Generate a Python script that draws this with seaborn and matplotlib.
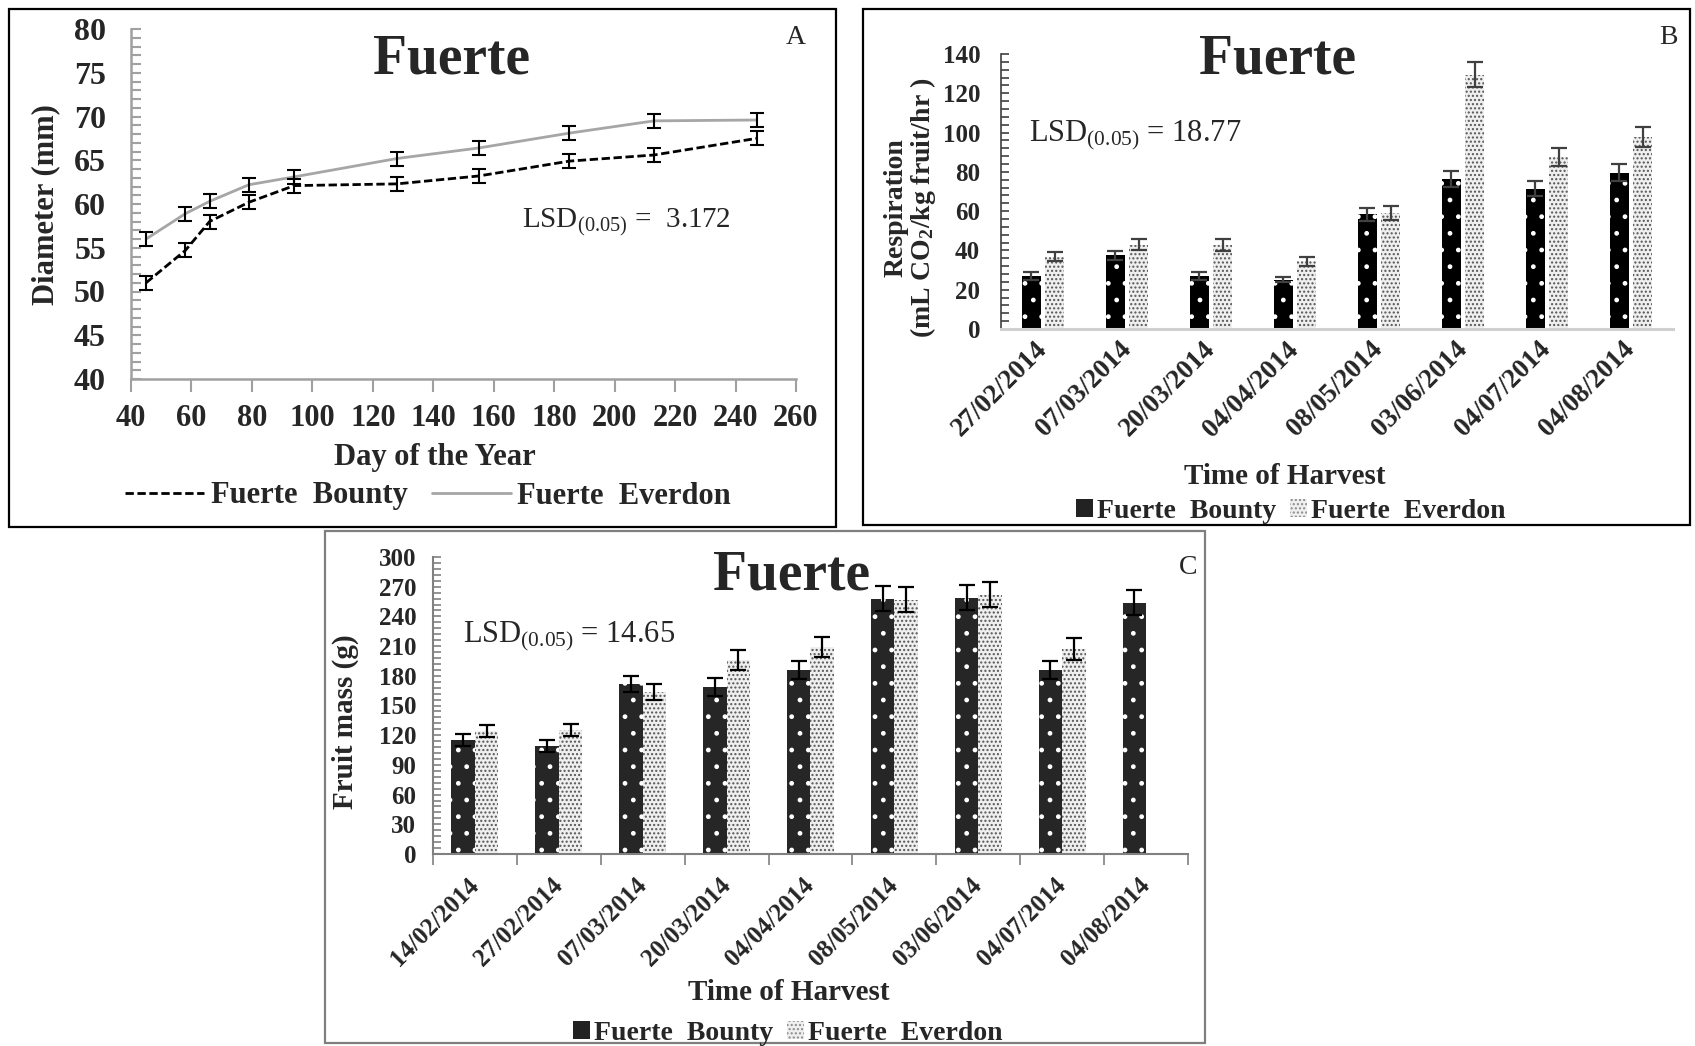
import numpy as np
import pandas as pd
import matplotlib
matplotlib.use("Agg")
import matplotlib.pyplot as plt
import seaborn as sns
from matplotlib.patches import Rectangle, Patch
from matplotlib.lines import Line2D
from matplotlib.ticker import MultipleLocator

# ---------------- data ----------------
# Panel A: fruit diameter vs day of year
days = [45, 58, 66, 79, 94, 128, 155, 185, 213, 247]
diam_bounty = [51.0, 54.7, 58.0, 60.2, 62.1, 62.3, 63.2, 64.9, 65.6, 67.5]
diam_everdon = [56.0, 58.9, 60.3, 62.2, 63.1, 65.2, 66.4, 68.1, 69.5, 69.6]
diam_err_bounty = [0.8, 0.8, 0.8, 0.8, 0.8, 0.8, 0.8, 0.8, 0.8, 0.8]
diam_err_everdon = [0.8, 0.8, 0.8, 0.8, 0.8, 0.8, 0.8, 0.8, 0.8, 0.8]

# Panel B: respiration
resp_dates = ["27/02/2014", "07/03/2014", "20/03/2014", "04/04/2014",
              "08/05/2014", "03/06/2014", "04/07/2014", "04/08/2014"]
resp_bounty = [27.0, 37.5, 27.0, 25.0, 58.3, 76.3, 71.5, 79.5]
resp_everdon = [36.8, 42.8, 42.8, 34.5, 59.0, 129.5, 87.4, 97.8]
resp_err_bounty = [1.8, 2.3, 1.8, 1.3, 3.2, 3.9, 3.7, 4.3]
resp_err_everdon = [2.3, 2.8, 3.0, 2.3, 3.6, 6.5, 4.6, 5.2]

# Panel C: fruit mass
mass_dates = ["14/02/2014", "27/02/2014", "07/03/2014", "20/03/2014", "04/04/2014",
              "08/05/2014", "03/06/2014", "04/07/2014", "04/08/2014"]
mass_bounty = [115, 109, 172, 169, 186, 258, 259, 186, 254]
mass_everdon = [124, 125, 164, 196, 209, 257, 262, 207, np.nan]
mass_err_bounty = [6, 6, 8, 9, 9, 13, 13, 9, 13]
mass_err_everdon = [6, 6, 8, 10, 10, 13, 13, 11, np.nan]

series_names = ["Fuerte  Bounty", "Fuerte  Everdon"]

# ---------------- style ----------------
sns.set_theme(style="white")
plt.rcParams["font.family"] = ["Liberation Serif", "DejaVu Serif"]
plt.rcParams["mathtext.default"] = "regular"
plt.rcParams["hatch.linewidth"] = 1.0

W, H = 1695, 1046
fig = plt.figure(figsize=(W / 100, H / 100), dpi=100)


def ax_rect(l, r, t, b):
    return [l / W, 1 - b / H, (r - l) / W, (b - t) / H]


def fx(px):
    return px / W


def fy(py):
    return 1 - py / H


# frames
for (x0, y0, x1, y1, col) in [(9, 9, 836, 527, "black"),
                              (863, 9, 1690, 525, "black"),
                              (325, 531, 1205, 1043, "#7f7f7f")]:
    fig.add_artist(Rectangle((fx(x0), fy(y1)), (x1 - x0) / W, (y1 - y0) / H,
                             transform=fig.transFigure, fill=False,
                             edgecolor=col, linewidth=1.6))

BOLD = dict(fontweight="bold")
EVERDON_FACE = "#efefef"
EVERDON_DOTS = "#555555"

# ================= Panel A =================
axA = fig.add_axes(ax_rect(131, 796, 29, 379))
dfA = pd.DataFrame({
    "day": days + days,
    "diam": diam_bounty + diam_everdon,
    "cult": [series_names[0]] * len(days) + [series_names[1]] * len(days),
})
sns.lineplot(data=dfA, x="day", y="diam", hue="cult", style="cult",
             palette={series_names[0]: "black", series_names[1]: "#a6a6a6"},
             dashes={series_names[0]: (3, 1.3), series_names[1]: ""},
             linewidth=2.0, ax=axA, legend=False, errorbar=None)
axA.errorbar(days, diam_bounty, yerr=diam_err_bounty, fmt="none", ecolor="black",
             elinewidth=1.5, capsize=5, capthick=1.5)
axA.errorbar(days, diam_everdon, yerr=diam_err_everdon, fmt="none", ecolor="black",
             elinewidth=1.5, capsize=5, capthick=1.5)
axA.set_xlim(40, 260)
axA.set_ylim(40, 80)
axA.xaxis.set_major_locator(MultipleLocator(20))
axA.yaxis.set_major_locator(MultipleLocator(5))
axA.yaxis.set_minor_locator(MultipleLocator(1))
for s in ["top", "right"]:
    axA.spines[s].set_visible(False)
for s in ["left", "bottom"]:
    axA.spines[s].set_color("#a0a0a0")
    axA.spines[s].set_linewidth(1.8)
axA.tick_params(axis="y", which="both", direction="in", color="#a0a0a0", width=1.5,
                labelsize=23, pad=18, left=True)
axA.tick_params(axis="y", which="major", length=7)
axA.tick_params(axis="y", which="minor", length=7)
axA.tick_params(axis="x", which="major", direction="out", color="#a0a0a0", width=1.5,
                length=9, labelsize=22, pad=9, bottom=True)
for lab in axA.get_xticklabels() + axA.get_yticklabels():
    lab.set_fontweight("bold")
axA.set_xlabel("")
axA.set_ylabel("")
fig.text(fx(46), fy(205), "Diameter (mm)", rotation=90, ha="center", va="center",
         fontsize=22, **BOLD)
fig.text(fx(435), fy(458), "Day of the Year", ha="center", va="center", fontsize=22, **BOLD)
fig.text(fx(452), fy(60), "Fuerte", ha="center", va="center", fontsize=40, **BOLD)
fig.text(fx(796), fy(38), "A", ha="center", va="center", fontsize=20)
fig.text(fx(522), fy(222), "LSD$_{(0.05)}$ =  3.172", ha="left", va="center", fontsize=21)
legA = [Line2D([], [], color="black", linestyle=(0, (3, 1.3)), linewidth=2),
        Line2D([], [], color="#a6a6a6", linewidth=2)]
fig.legend(legA, series_names, loc="center", bbox_to_anchor=(fx(428), fy(496)),
           ncol=2, frameon=False, prop=dict(size=22, weight="bold"),
           handlelength=2.6, handletextpad=0.2, columnspacing=0.8)


# ================= bar helper =================
def bar_panel(ax, dates, vb, ve, eb, ee, width, gap, bcol, ecol):
    df = pd.DataFrame({
        "date": dates + dates,
        "val": vb + ve,
        "cult": [series_names[0]] * len(dates) + [series_names[1]] * len(dates),
    })
    df = df.dropna()
    sns.barplot(data=df, x="date", y="val", hue="cult", order=dates,
                hue_order=series_names, width=width, gap=gap,
                palette={series_names[0]: bcol, series_names[1]: "white"},
                errorbar=None, legend=False, ax=ax, saturation=1)
    for p in ax.patches:
        cx = p.get_x() + p.get_width() / 2
        idx = int(round(cx))
        if cx < idx:
            p.set_facecolor(bcol)
            p.set_edgecolor("white")
            p.set_hatch(".")
            p.set_linewidth(0)
        else:
            p.set_facecolor(EVERDON_FACE)
            p.set_edgecolor(EVERDON_DOTS)
            p.set_hatch("....")
            p.set_linewidth(0)
    # error bars at bar centres
    xs_b, ys_b, es_b, xs_e, ys_e, es_e = [], [], [], [], [], []
    for p in ax.patches:
        cx = p.get_x() + p.get_width() / 2
        idx = int(round(cx))
        h = p.get_height()
        if np.isnan(h):
            continue
        if cx < idx:
            xs_b.append(cx); ys_b.append(h); es_b.append(eb[idx])
        else:
            xs_e.append(cx); ys_e.append(h); es_e.append(ee[idx])
    ax.errorbar(xs_b, ys_b, yerr=es_b, fmt="none", ecolor=ecol, elinewidth=1.6,
                capsize=5.5, capthick=1.6, zorder=5)
    ax.errorbar(xs_e, ys_e, yerr=es_e, fmt="none", ecolor=ecol, elinewidth=1.6,
                capsize=5.5, capthick=1.6, zorder=5)
    ax.set_xlim(-0.5, len(dates) - 0.5)
    ax.set_xlabel("")
    ax.set_ylabel("")
    for s in ["top", "right"]:
        ax.spines[s].set_visible(False)


def bar_legend(x, y, size):
    handles = [Patch(facecolor="#222222", edgecolor="#222222", linewidth=0),
               Patch(facecolor=EVERDON_FACE, edgecolor="#8a8a8a", hatch="....", linewidth=0)]
    fig.legend(handles, series_names, loc="center", bbox_to_anchor=(fx(x), fy(y)),
               ncol=2, frameon=False, prop=dict(size=size, weight="bold"),
               handlelength=0.6, handleheight=0.6, handletextpad=0.15,
               columnspacing=0.5)


def rot_labels(ax):
    for lab in ax.get_xticklabels():
        lab.set_fontweight("bold")
        lab.set_rotation(45)
        lab.set_ha("right")
        lab.set_va("center")
        lab.set_rotation_mode("anchor")


# ================= Panel B =================
axB = fig.add_axes(ax_rect(1001, 1673, 54, 329))
bar_panel(axB, resp_dates, resp_bounty, resp_everdon, resp_err_bounty,
          resp_err_everdon, 0.56, 0.2, "#000000", "#404040")
axB.set_ylim(0, 140)
axB.yaxis.set_major_locator(MultipleLocator(20))
axB.yaxis.set_minor_locator(MultipleLocator(4))
axB.spines["left"].set_color("#404040")
axB.spines["left"].set_linewidth(1.2)
axB.spines["bottom"].set_color("#d0d0d0")
axB.spines["bottom"].set_linewidth(2.2)
axB.tick_params(axis="y", which="both", direction="in", color="#404040", width=1.2,
                length=6, labelsize=18, pad=15, left=True)
axB.tick_params(axis="x", length=0, labelsize=19.5, pad=12)
for lab in axB.get_yticklabels():
    lab.set_fontweight("bold")
rot_labels(axB)
fig.text(fx(911), fy(208), "Respiration\n(mL CO$_2$/kg fruit/hr )", rotation=90,
         ha="center", va="center", fontsize=20, linespacing=1.0,
         multialignment="center", **BOLD)
fig.text(fx(1285), fy(476), "Time of Harvest", ha="center", va="center", fontsize=21, **BOLD)
fig.text(fx(1277), fy(60), "Fuerte", ha="center", va="center", fontsize=40, **BOLD)
fig.text(fx(1668), fy(38), "B", ha="center", va="center", fontsize=20)
fig.text(fx(1029), fy(135), "LSD$_{(0.05)}$ = 18.77", ha="left", va="center", fontsize=22)
bar_legend(1291, 511, 20)

# ================= Panel C =================
axC = fig.add_axes(ax_rect(433, 1188, 557, 854))
bar_panel(axC, mass_dates, mass_bounty, mass_everdon, mass_err_bounty,
          mass_err_everdon, 0.56, 0.0, "#262626", "black")
axC.set_ylim(0, 300)
axC.yaxis.set_major_locator(MultipleLocator(30))
axC.yaxis.set_minor_locator(MultipleLocator(6))
for s in ["left", "bottom"]:
    axC.spines[s].set_color("#808080")
    axC.spines[s].set_linewidth(1.5)
axC.tick_params(axis="y", which="both", direction="in", color="#808080", width=1.2,
                length=6, labelsize=18, pad=12, left=True)
axC.set_xticks(np.arange(len(mass_dates)))
axC.set_xticks(np.arange(len(mass_dates) + 1) - 0.5, minor=True)
axC.tick_params(axis="x", which="major", length=0, labelsize=18, pad=20)
axC.tick_params(axis="x", which="minor", direction="out", length=8, width=1.2,
                color="#808080", bottom=True)
for lab in axC.get_yticklabels():
    lab.set_fontweight("bold")
rot_labels(axC)
fig.text(fx(345), fy(722), "Fruit mass (g)", rotation=90, ha="center", va="center",
         fontsize=21, **BOLD)
fig.text(fx(789), fy(993), "Time of Harvest", ha="center", va="center", fontsize=21, **BOLD)
fig.text(fx(792), fy(576), "Fuerte", ha="center", va="center", fontsize=40, **BOLD)
fig.text(fx(1188), fy(568), "C", ha="center", va="center", fontsize=20)
fig.text(fx(463), fy(636), "LSD$_{(0.05)}$ = 14.65", ha="left", va="center", fontsize=22)
bar_legend(788, 1033, 20)

fig.savefig("out.png", dpi=100)
